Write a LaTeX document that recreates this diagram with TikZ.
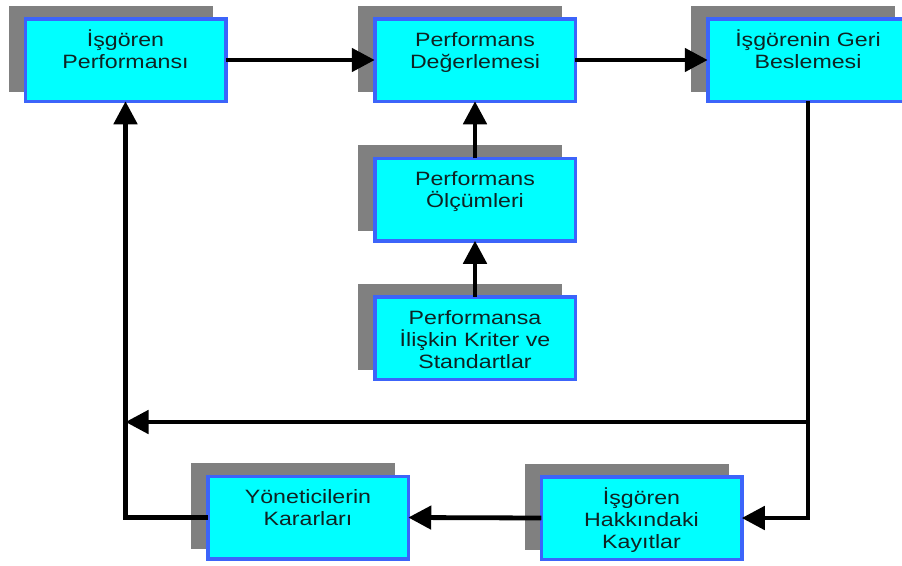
\documentclass[tikz,border=0pt]{standalone}
\usepackage{fontspec}
\setmainfont{Liberation Sans}[FakeStretch=1.2]
\usetikzlibrary{arrows.meta,shadows}
\definecolor{boxfill}{RGB}{0,255,255}
\definecolor{boxline}{RGB}{60,100,250}
\definecolor{shadowgray}{RGB}{128,128,128}
\definecolor{txt}{RGB}{15,35,35}
\newcommand\boxtxt[1]{\parbox[c][82.5pt][t]{200.5pt}{\centering\fontsize{19.3}{22}\selectfont\color{txt}\rule{0pt}{27.5pt}#1}}
\begin{document}
\begin{tikzpicture}[x=1pt,y=-1pt,
  diagbox/.style={draw=boxline, fill=boxfill, line width=3.5pt, inner sep=0pt, outer sep=0pt,
    general shadow={fill=shadowgray, draw=shadowgray, line width=3.5pt, shadow xshift=-15pt, shadow yshift=11.5pt}},
  arr/.style={line width=4.8pt, -{Triangle[length=23pt,width=23pt]}}]
\useasboundingbox (0,0) rectangle (902,565);
\clip (0,0) rectangle (902,565);
\node[diagbox] (b1) at (125.5,60) {\boxtxt{İşgören\\Performansı}};
\node[diagbox] (b2) at (475,60) {\boxtxt{Performans\\Değerlemesi}};
\node[diagbox] (b3) at (808,60) {\boxtxt{İşgörenin Geri\\Beslemesi}};
\node[diagbox] (b4) at (475,199.5) {\boxtxt{Performans\\Ölçümleri}};
\node[diagbox] (b5) at (475,338) {\boxtxt{Performansa\\İlişkin Kriter ve\\Standartlar}};
\node[diagbox] (b6) at (308,517.5) {\boxtxt{Yöneticilerin\\Kararları}};
\node[diagbox] (b7) at (641.5,518) {\boxtxt{İşgören\\Hakkındaki\\Kayıtlar}};
\coordinate (jR) at (808,422);
\coordinate (jL) at (125.5,422);
\draw[arr] (b1.east) -- (b2.west);
\draw[arr] (b2.east) -- (b3.west);
\draw[arr] (b4.north) -- (b2.south);
\draw[arr] (b5.north) -- (b4.south);
\draw[arr] (b3.south) |- (b7.east);
\draw[arr] (jR) -- (jL);
\draw[arr] (b7.west) -- (b6.east);
\draw[arr] (b6.west) -| (b1.south);
\end{tikzpicture}
\end{document}
